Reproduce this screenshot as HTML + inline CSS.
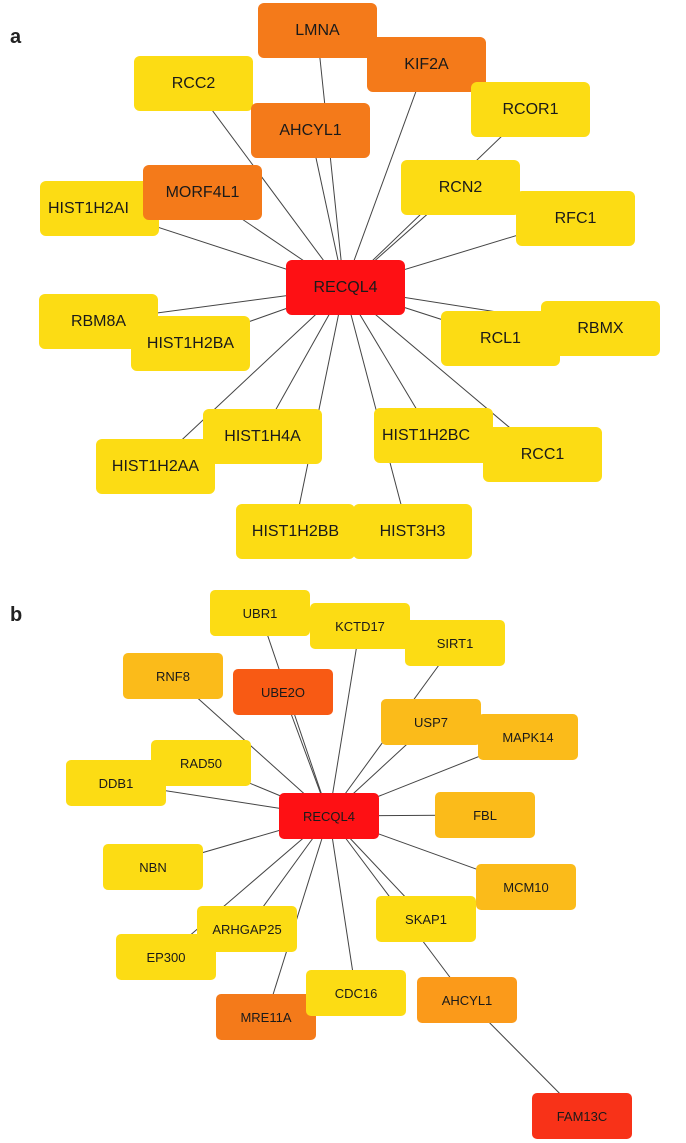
<!DOCTYPE html>
<html><head><meta charset="utf-8"><style>
body{margin:0;width:686px;height:1143px;background:#fff;position:relative;overflow:hidden;font-family:"Liberation Sans",sans-serif}
svg{position:absolute;left:0;top:0}
.n{position:absolute;display:flex;align-items:center;justify-content:center;border-radius:6px;color:#1a1a1a;white-space:nowrap;overflow:hidden}
.a{width:119px;height:55px;font-size:16px}
.b{width:100px;height:46px;font-size:13px;border-radius:5px}
.y{background:#fcdc14}.o{background:#f47a1a}.r{background:#fe1014}
.lo{background:#fbbb1a}.uo{background:#f85a14}.ao{background:#fb9a1a}.fr{background:#f83218}
.lab{position:absolute;font-weight:bold;font-size:20px;color:#222}
</style></head><body>
<div class="lab" style="left:10px;top:26px">a</div>
<div class="lab" style="left:10px;top:604px">b</div>
<svg width="686" height="1143" stroke="#444" stroke-width="1">
<g>
<line x1="344" y1="288" x2="317" y2="30"/><line x1="344" y1="288" x2="426" y2="64"/>
<line x1="344" y1="288" x2="192" y2="83"/><line x1="344" y1="288" x2="530" y2="109"/>
<line x1="344" y1="288" x2="310" y2="130"/><line x1="344" y1="288" x2="458" y2="187"/>
<line x1="344" y1="288" x2="202" y2="192"/><line x1="344" y1="288" x2="99" y2="208"/>
<line x1="344" y1="288" x2="574" y2="218"/><line x1="344" y1="288" x2="97" y2="321"/>
<line x1="344" y1="288" x2="599" y2="328"/><line x1="344" y1="288" x2="499" y2="338"/>
<line x1="344" y1="288" x2="189" y2="343"/><line x1="344" y1="288" x2="261" y2="436"/>
<line x1="344" y1="288" x2="155" y2="465"/><line x1="344" y1="288" x2="432" y2="435"/>
<line x1="344" y1="288" x2="541" y2="454"/><line x1="344" y1="288" x2="294" y2="531"/>
<line x1="344" y1="288" x2="408" y2="531"/>
</g>
<g>
<line x1="329" y1="816" x2="260" y2="613"/><line x1="329" y1="816" x2="360" y2="626"/>
<line x1="329" y1="816" x2="455" y2="643"/><line x1="329" y1="816" x2="173" y2="676"/>
<line x1="329" y1="816" x2="283" y2="692"/><line x1="329" y1="816" x2="528" y2="737"/>
<line x1="329" y1="816" x2="431" y2="722"/><line x1="329" y1="816" x2="201" y2="763"/>
<line x1="329" y1="816" x2="116" y2="783"/><line x1="329" y1="816" x2="485" y2="815"/>
<line x1="329" y1="816" x2="153" y2="867"/><line x1="329" y1="816" x2="526" y2="887"/>
<line x1="329" y1="816" x2="426" y2="919"/><line x1="329" y1="816" x2="247" y2="929"/>
<line x1="329" y1="816" x2="166" y2="956"/><line x1="329" y1="816" x2="356" y2="993"/>
<line x1="329" y1="816" x2="266" y2="1017"/><line x1="329" y1="816" x2="467" y2="1000"/>
<line x1="467" y1="1000" x2="582" y2="1116"/>
</g>
</svg>
<!-- panel a -->
<div class="n a o" style="left:258px;top:3px">LMNA</div>
<div class="n a o" style="left:367px;top:37px">KIF2A</div>
<div class="n a y" style="left:134px;top:56px">RCC2</div>
<div class="n a y" style="left:471px;top:82px">RCOR1</div>
<div class="n a o" style="left:251px;top:103px">AHCYL1</div>
<div class="n a y" style="left:40px;top:181px;justify-content:flex-start;padding-left:8px;box-sizing:border-box">HIST1H2AI</div>
<div class="n a o" style="left:143px;top:165px">MORF4L1</div>
<div class="n a y" style="left:401px;top:160px">RCN2</div>
<div class="n a y" style="left:516px;top:191px">RFC1</div>
<div class="n a r" style="left:286px;top:260px">RECQL4</div>
<div class="n a y" style="left:39px;top:294px">RBM8A</div>
<div class="n a y" style="left:541px;top:301px">RBMX</div>
<div class="n a y" style="left:441px;top:311px">RCL1</div>
<div class="n a y" style="left:131px;top:316px">HIST1H2BA</div>
<div class="n a y" style="left:96px;top:439px">HIST1H2AA</div>
<div class="n a y" style="left:203px;top:409px">HIST1H4A</div>
<div class="n a y" style="left:374px;top:408px;justify-content:flex-start;padding-left:8px;box-sizing:border-box">HIST1H2BC</div>
<div class="n a y" style="left:483px;top:427px">RCC1</div>
<div class="n a y" style="left:236px;top:504px">HIST1H2BB</div>
<div class="n a y" style="left:353px;top:504px">HIST3H3</div>
<!-- panel b -->
<div class="n b y" style="left:210px;top:590px">UBR1</div>
<div class="n b y" style="left:310px;top:603px">KCTD17</div>
<div class="n b y" style="left:405px;top:620px">SIRT1</div>
<div class="n b lo" style="left:123px;top:653px">RNF8</div>
<div class="n b uo" style="left:233px;top:669px">UBE2O</div>
<div class="n b lo" style="left:478px;top:714px">MAPK14</div>
<div class="n b lo" style="left:381px;top:699px">USP7</div>
<div class="n b y" style="left:151px;top:740px">RAD50</div>
<div class="n b y" style="left:66px;top:760px">DDB1</div>
<div class="n b r" style="left:279px;top:793px">RECQL4</div>
<div class="n b lo" style="left:435px;top:792px">FBL</div>
<div class="n b y" style="left:103px;top:844px">NBN</div>
<div class="n b lo" style="left:476px;top:864px">MCM10</div>
<div class="n b y" style="left:376px;top:896px">SKAP1</div>
<div class="n b y" style="left:116px;top:934px">EP300</div>
<div class="n b y" style="left:197px;top:906px">ARHGAP25</div>
<div class="n b o" style="left:216px;top:994px">MRE11A</div>
<div class="n b y" style="left:306px;top:970px">CDC16</div>
<div class="n b ao" style="left:417px;top:977px">AHCYL1</div>
<div class="n b fr" style="left:532px;top:1093px">FAM13C</div>
</body></html>
